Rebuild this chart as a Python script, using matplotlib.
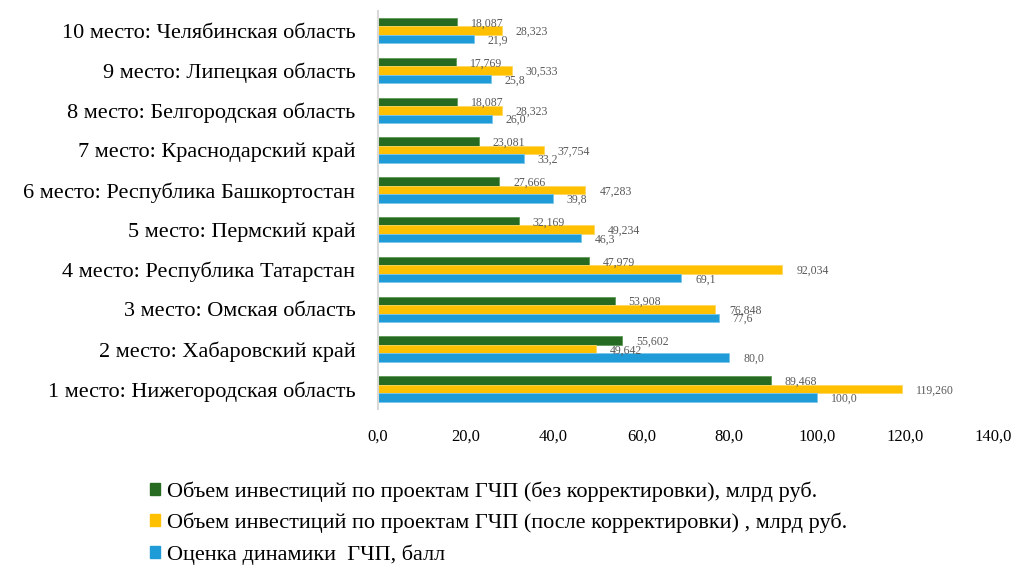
import numpy as np
from matplotlib import pyplot as plt
from matplotlib.patches import Patch

plt.rcParams['font.family'] = ['Liberation Serif', 'DejaVu Serif']

regions = ['1 место: Нижегородская область', '2 место: Хабаровский край',
           '3 место: Омская область', '4 место: Республика Татарстан',
           '5 место: Пермский край', '6 место: Республика Башкортостан',
           '7 место: Краснодарский край', '8 место: Белгородская область',
           '9 место: Липецкая область', '10 место: Челябинская область']

invest_raw = [89.468, 55.602, 53.908, 47.979, 32.169, 27.666, 23.081, 18.087, 17.769, 18.087]
invest_adj = [119.260, 49.642, 76.848, 92.034, 49.234, 47.283, 37.754, 28.323, 30.533, 28.323]
score = [100.0, 80.0, 77.6, 69.1, 46.3, 39.8, 33.2, 26.0, 25.8, 21.9]

series_names = ['Объем инвестиций по проектам ГЧП (без корректировки), млрд руб.',
                'Объем инвестиций по проектам ГЧП (после корректировки) , млрд руб.',
                'Оценка динамики  ГЧП, балл']
colors = ['#276b22', '#ffc000', '#1f9cd8']
edges = ['#5e9a57', '#ffd75e', '#7cc6ec']

fig = plt.figure(figsize=(10.26, 5.67), dpi=100)
ax = fig.add_axes([0.368, 0.279, 0.600, 0.702])

y = np.arange(len(regions))
h = 0.213

series = [(invest_raw, h, '{:.3f}'), (invest_adj, 0, '{:.3f}'), (score, -h, '{:.1f}')]
for (vals, off, fmt), c, ec in zip(series, colors, edges):
    bars = ax.barh(y + off, vals, height=h, color=c, edgecolor=ec, linewidth=0.6)
    for b, v in zip(bars, vals):
        ax.annotate(fmt.format(v).replace('.', ','),
                    (b.get_width(), b.get_y() + b.get_height() / 2),
                    xytext=(10, -1), textcoords='offset points', ha='left', va='center',
                    fontsize=8.5, color='#595959')

ax.set_xlim(0, 140)
ax.set_ylim(-0.5, len(regions) - 0.5)
ax.set_xticks(np.arange(0, 141, 20))
ax.set_xticklabels(['{:.1f}'.format(t).replace('.', ',') for t in np.arange(0, 141, 20)], fontsize=12)
ax.set_yticks(y)
ax.set_yticklabels(regions, fontsize=16)
ax.tick_params(axis='both', length=0)
ax.tick_params(axis='y', pad=16)
ax.tick_params(axis='x', pad=14)

for s in ['top', 'right', 'bottom']:
    ax.spines[s].set_visible(False)
ax.spines['left'].set_color('#d9d9d9')
ax.spines['left'].set_linewidth(1.5)

handles = [Patch(facecolor=c, edgecolor=c) for c in colors]
fig.legend(handles, series_names, loc='upper left', bbox_to_anchor=(0.138, 0.167),
           frameon=False, fontsize=16, handlelength=0.45, handleheight=0.45,
           handletextpad=0.3, labelspacing=0.5, borderaxespad=0)

fig.savefig('out.png', dpi=100)
